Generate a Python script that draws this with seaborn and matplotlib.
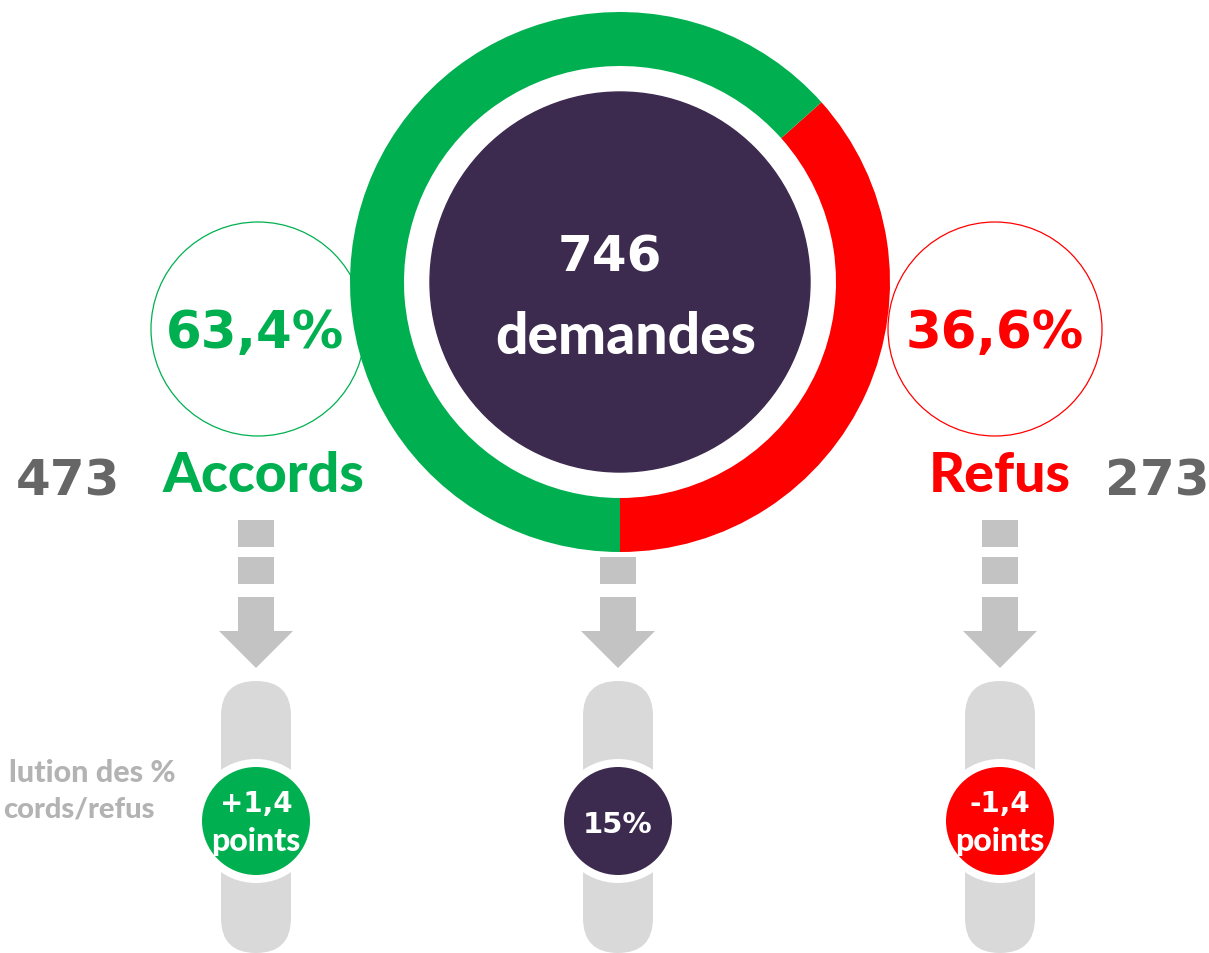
import matplotlib
matplotlib.use("Agg")
import matplotlib.pyplot as plt
from matplotlib.patches import Circle, Rectangle, Polygon, FancyBboxPatch
import seaborn as sns

# ---- data ----
categories = ["Accords", "Refus"]
counts = [473, 273]
percents = ["63,4%", "36,6%"]
total = 746
total_label = "demandes"
evolution = ["+1,4", "15%", "-1,4"]
evolution_units = ["points", "", "points"]
side_note = ["lution des %", "cords/refus"]   # visible part of the (cropped) side note

sns.set_theme(style="white")
plt.rcParams['font.family'] = ['DejaVu Sans']

GREEN = "#00b050"
RED = "#ff0000"
DARK = "#3d2b4f"
GREY_TXT = "#666666"
ARROW = "#c3c3c3"
PILL = "#d9d9d9"

W, H = 1209, 954
fig = plt.figure(figsize=(W / 100, H / 100), dpi=100)
ax = fig.add_axes([0, 0, 1, 1])

def Y(py):
    return H - py

# ---- main donut ----
cx, cy = 620, Y(283)
ax.pie([counts[1], counts[0]], colors=[RED, GREEN], startangle=-90,
       counterclock=True, radius=270, center=(cx, cy),
       wedgeprops=dict(width=54, linewidth=0))
ax.add_patch(Circle((cx, cy), 190, color=DARK, zorder=3))
ax.text(cx - 10, Y(258), f"{total}", color="white", fontsize=36, fontweight="bold",
        ha="center", va="center", zorder=4)
ax.text(cx + 6, Y(337), total_label, color="white", fontsize=41, fontweight="black",
        family=["Lato", "DejaVu Sans"], ha="center", va="center", zorder=4)

# ---- side circles ----
side = [
    dict(cx=258, col=GREEN, numx=68, wordx=263, px=255),
    dict(cx=995, col=RED, numx=1157, wordx=1000, px=995),
]
for i, s in enumerate(side):
    ax.add_patch(Circle((s["cx"], Y(330)), 107, fill=False, edgecolor=s["col"],
                        linewidth=0.9, zorder=1))
    ax.text(s["px"], Y(334), percents[i], color=s["col"],
            fontsize=37, fontweight="bold", ha="center", va="center", zorder=5)
    ax.text(s["wordx"], Y(476), categories[i], color=s["col"], fontsize=40,
            fontweight="black", family=["Lato", "DejaVu Sans"],
            ha="center", va="center", zorder=5)
    ax.text(s["numx"], Y(482), f"{counts[i]}", color=GREY_TXT, fontsize=36,
            fontweight="bold", ha="center", va="center", zorder=5)

# ---- arrows + pills ----
cols_x = [256, 618, 1000]
n_squares = [2, 1, 2]
circle_cols = [GREEN, DARK, RED]
for j, x in enumerate(cols_x):
    tops = [521, 558] if n_squares[j] == 2 else [558]
    for t in tops:
        ax.add_patch(Rectangle((x - 18, Y(t + 27)), 36, 27, color=ARROW, lw=0, zorder=2))
    ax.add_patch(Rectangle((x - 18, Y(633)), 36, 35, color=ARROW, lw=0, zorder=2))
    ax.add_patch(Polygon([(x - 37, Y(632)), (x + 37, Y(632)), (x, Y(669))],
                         closed=True, color=ARROW, lw=0, zorder=2))
    ax.add_patch(FancyBboxPatch((x - 35, Y(954)), 70, 954 - 682,
                                boxstyle="round,pad=0,rounding_size=35",
                                color=PILL, lw=0, zorder=2))
    ax.add_patch(Circle((x, Y(822)), 62, color="white", lw=0, zorder=3))
    ax.add_patch(Circle((x, Y(822)), 54, color=circle_cols[j], lw=0, zorder=4))
    if evolution_units[j]:
        ax.text(x, Y(804), evolution[j], color="white", fontsize=20, fontweight="bold",
                ha="center", va="center", zorder=5)
        ax.text(x, Y(842), evolution_units[j], color="white", fontsize=23,
                fontweight="black", family=["Lato", "DejaVu Sans"],
                ha="center", va="center", zorder=5)
    else:
        ax.text(x, Y(825), evolution[j], color="white", fontsize=21, fontweight="bold",
                ha="center", va="center", zorder=5)

ax.text(176, Y(773), side_note[0], color="#b3b3b3", fontsize=22, fontweight="black",
        family=["Lato", "DejaVu Sans"], ha="right", va="center", zorder=5)
ax.text(3, Y(810), side_note[1], color="#b3b3b3", fontsize=21, fontweight="black",
        family=["Lato", "DejaVu Sans"], ha="left", va="center", zorder=5)

ax.set_xlim(0, W)
ax.set_ylim(0, H)
ax.set_aspect("equal")
ax.axis("off")
fig.savefig("out.png", dpi=100, facecolor="white")
